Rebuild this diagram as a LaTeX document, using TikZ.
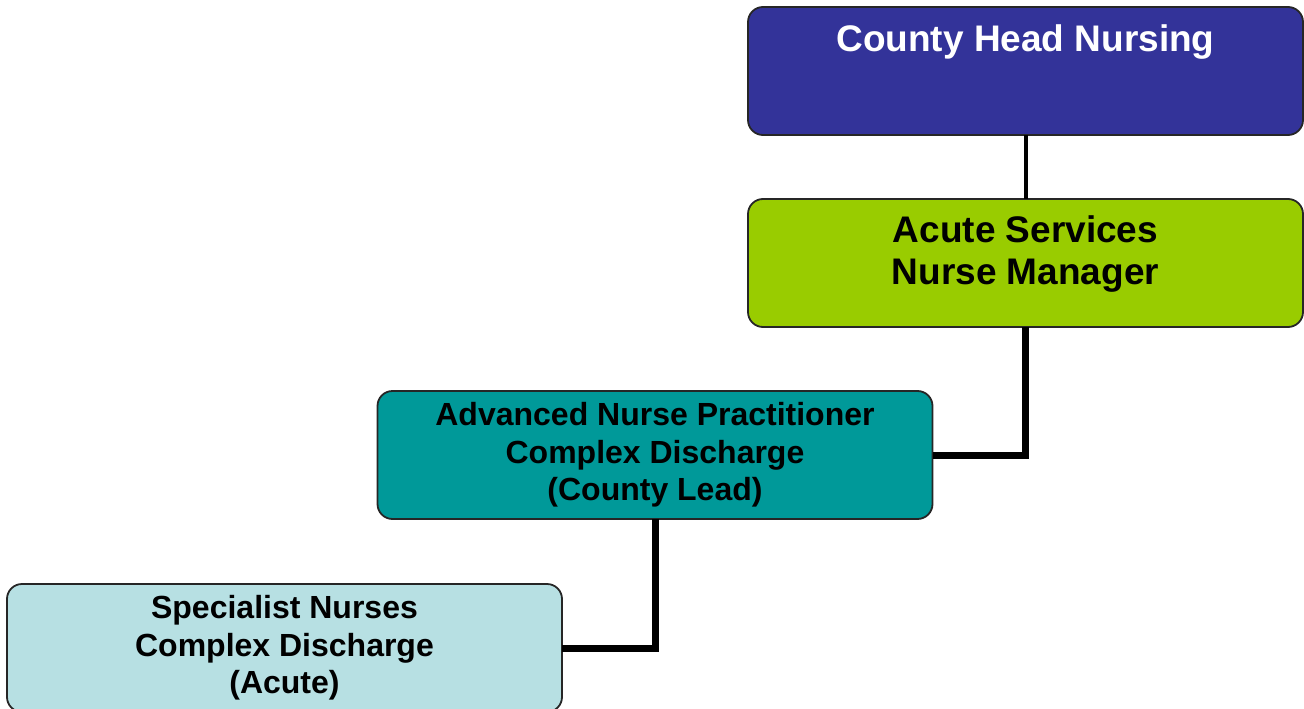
\documentclass[tikz,border=0pt]{standalone}
\usepackage{fontspec}
\setmainfont{Liberation Sans}
\definecolor{headblue}{HTML}{333399}
\definecolor{mgrgreen}{HTML}{99CC00}
\definecolor{anpteal}{HTML}{009999}
\definecolor{speclight}{HTML}{B7E0E3}
\tikzstyle{orgbox}=[rectangle,rounded corners=15pt,draw=black!85,line width=1.8pt,
minimum width=555pt,minimum height=128pt,align=center,outer sep=0pt,font=\bfseries]
\tikzstyle{bigtext}=[font=\bfseries\fontsize{37}{42}\selectfont]
\tikzstyle{smalltext}=[font=\bfseries\fontsize{32}{37.5}\selectfont]
\tikzstyle{thinlink}=[line width=4pt]
\tikzstyle{thicklink}=[line width=7pt]
\usetikzlibrary{positioning}

\begin{document}
\begin{tikzpicture}[x=1pt,y=-1pt]
            \useasboundingbox (0,0) rectangle (1304,709);

            % Boxes

            \node[orgbox,bigtext,fill=headblue,text=white] at (1025.5,71) (head) {County Head Nursing\\[24pt]\mbox{}};
            \node[orgbox,bigtext,fill=mgrgreen,below=64pt of head] (mgr) {Acute Services\\Nurse Manager\\[-16pt]\mbox{}};
            \node[orgbox,smalltext,fill=anpteal,below left=64pt and 93pt of mgr.south] (anp) {Advanced Nurse Practitioner\\Complex Discharge\\(County Lead)};
            \node[orgbox,smalltext,fill=speclight,below left=65pt and 93pt of anp.south] (spec) {Specialist Nurses\\Complex Discharge\\(Acute)};

            % Connections

            \draw[thinlink] (head) -- (mgr);
            \draw[thicklink] (mgr.south) |- (anp.east);
            \draw[thicklink] (anp.south) |- (spec.east);
\end{tikzpicture}
\end{document}
